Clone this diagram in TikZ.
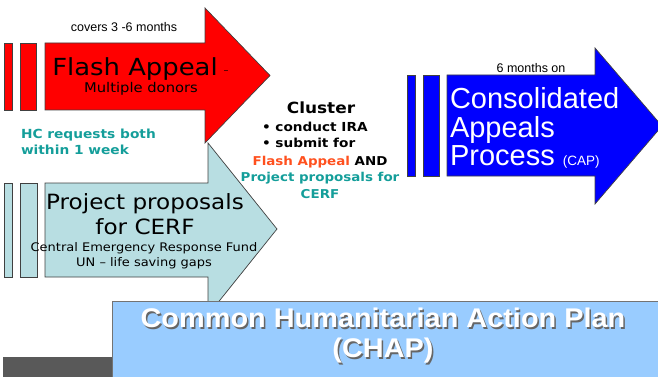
\documentclass[tikz,border=0pt]{standalone}
\usepackage{fontspec}
\setmainfont{DejaVu Sans}[FakeStretch=1.1]
\newfontfamily\arialf{Liberation Sans}
\newfontfamily\arialw{Liberation Sans}[FakeStretch=1.07]
\definecolor{redfill}{RGB}{255,0,0}
\definecolor{bluefill}{RGB}{0,0,255}
\definecolor{cyanfill}{RGB}{184,222,226}
\definecolor{tealtxt}{RGB}{20,158,154}
\definecolor{orangetxt}{RGB}{255,80,30}
\definecolor{chapfill}{RGB}{153,204,255}
\definecolor{darkbar}{RGB}{89,89,89}
\tikzset{
  arrowshape/.style={draw=black!75, line width=0.7pt},
  txt/.style={inner sep=0pt, outer sep=0pt},
}
\begin{document}
\begin{tikzpicture}[x=1pt,y=-1pt]
\useasboundingbox (0,0) rectangle (658,377);
% cyan arrow
\path[arrowshape, fill=cyanfill] (45,183) -- (208,183) -- (208,143) -- (277,229) -- (208,315) -- (208,277) -- (45,277) -- cycle;
\path[arrowshape, fill=cyanfill] (4,183) rectangle (12,277);
\path[arrowshape, fill=cyanfill] (20,183) rectangle (37,277);
% red arrow
\path[arrowshape, fill=redfill] (45,43) -- (205,43) -- (205,8) -- (270,75.5) -- (205,143) -- (205,110) -- (45,110) -- cycle;
\path[arrowshape, fill=redfill] (4,43) rectangle (12,110);
\path[arrowshape, fill=redfill] (20,43) rectangle (36,110);
% blue arrow
\path[arrowshape, fill=bluefill] (447,75) -- (595,75) -- (595,48) -- (662,126) -- (595,204) -- (595,176) -- (447,176) -- cycle;
\path[arrowshape, fill=bluefill] (407,75) rectangle (415,176);
\path[arrowshape, fill=bluefill] (423,75) rectangle (439,176);
% bottom
\path[fill=darkbar] (3,357) rectangle (112,377);
\path[draw=black!55, line width=0.6pt, fill=chapfill] (112,301) rectangle (662,380);

% red arrow texts
\node[txt, font=\arialf\fontsize{12.5}{14}\selectfont] (cov) at (124,27) {covers 3 -6 months};
\node[txt, font=\fontsize{23.5}{28}\selectfont] (fa) at (135,69) {Flash Appeal};
\node[txt, font=\fontsize{9}{10}\selectfont] (dash) at (226,72) {–};
\node[txt, font=\fontsize{13.4}{16}\selectfont] (md) at (141,89) {Multiple donors};
% HC
\node[txt, anchor=west, align=left, text=tealtxt, font=\bfseries\fontsize{12.5}{16}\selectfont] (hc) at (21,142) {HC requests both\\within 1 week};
% cyan texts
\node[txt, align=center, font=\fontsize{21}{25}\selectfont] (pp) at (145,214) {Project proposals\\for CERF};
\node[txt, align=center, font=\fontsize{11.8}{15}\selectfont] (cerf) at (144,256) {Central Emergency Response Fund\\UN – life saving gaps};
% cluster
\node[txt, font=\bfseries\fontsize{15.4}{18}\selectfont] (cl) at (321,108) {Cluster};
\node[txt, anchor=west, font=\bfseries\fontsize{12.4}{14}\selectfont] (b1) at (262,127) {• conduct IRA};
\node[txt, anchor=west, font=\bfseries\fontsize{12.4}{14}\selectfont] (b2) at (262,143) {• submit for};
\node[txt, align=center, font=\bfseries\fontsize{12.2}{16.5}\selectfont] (fl) at (320,177) {\textcolor{orangetxt}{Flash Appeal} AND\\\textcolor{tealtxt}{Project proposals for}\\\textcolor{tealtxt}{CERF}};
% blue texts
\node[txt, font=\arialf\fontsize{12.5}{14}\selectfont] (six) at (531,68) {6 months on};
\node[txt, anchor=west, align=left, text=white, font=\arialf\fontsize{29}{28.5}\selectfont] (cap) at (450,128) {Consolidated\\Appeals\\Process {\fontsize{13.5}{14}\selectfont (CAP)}};
% CHAP
\node[txt, align=center, text=black!60, font=\arialw\bfseries\fontsize{27}{30}\selectfont] (chaps) at (384.5,337.5) {Common Humanitarian Action Plan\\(CHAP)};
\node[txt, align=center, text=white, font=\arialw\bfseries\fontsize{27}{30}\selectfont] (chap) at (383,336) {Common Humanitarian Action Plan\\(CHAP)};
\end{tikzpicture}
\end{document}
